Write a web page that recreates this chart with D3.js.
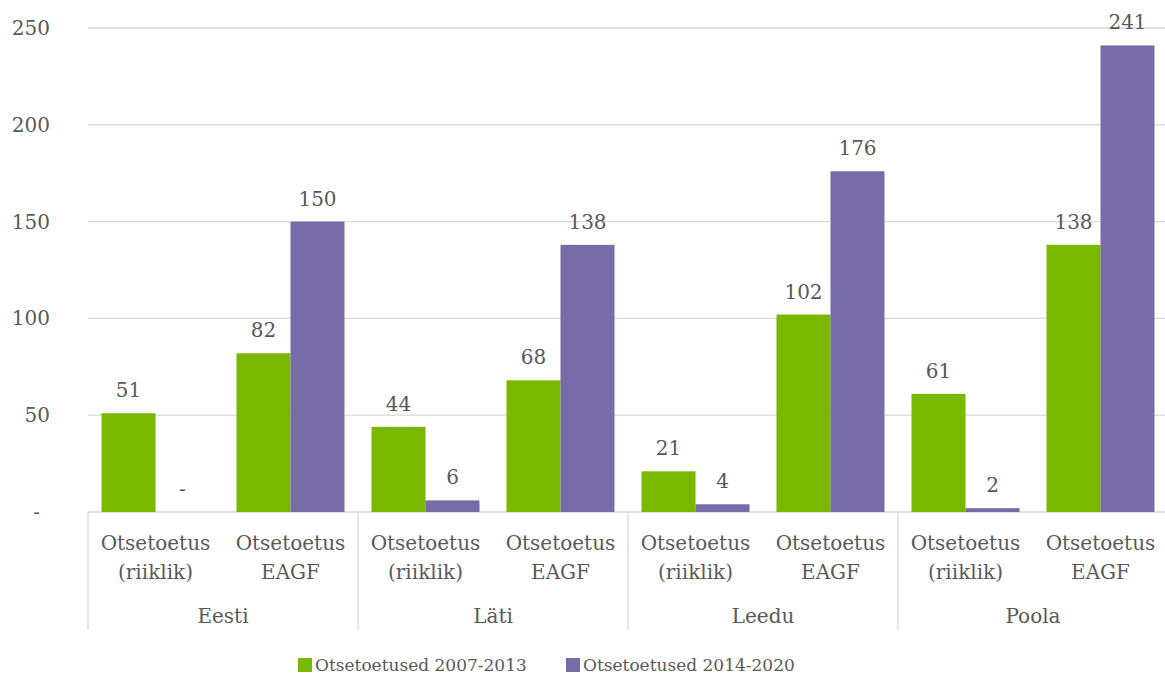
<!DOCTYPE html>
<html>
<head>
<meta charset="utf-8">
<script src="https://cdn.jsdelivr.net/npm/d3@7"></script>
<style>
  body { margin: 0; background: #fff; }
  svg { display: block; }
  text { font-family: "DejaVu Serif", serif; fill: #595959; }
</style>
</head>
<body>
<svg id="chart" width="1165" height="675"></svg>
<script>
const countries = ["Eesti", "Läti", "Leedu", "Poola"];
const subcats = [["Otsetoetus", "(riiklik)"], ["Otsetoetus", "EAGF"]];
const seriesNames = ["Otsetoetused 2007-2013", "Otsetoetused 2014-2020"];
const values2007 = [51, 82, 44, 68, 21, 102, 61, 138];
const values2014 = [0, 150, 6, 138, 4, 176, 2, 241];
const yTicks = [0, 50, 100, 150, 200, 250];
const colors = ["#7ab800", "#786ca8"];

const svg = d3.select("#chart");
const plotLeft = 88, plotRight = 1168, plotTop = 28, plotBottom = 512;

// one band per country, then one per sub category, then one per series
const xCountry = d3.scaleBand().domain(countries).range([plotLeft, plotRight]);
const xSub = d3.scaleBand().domain([0, 1]).range([0, xCountry.bandwidth()]);
const xSeries = d3.scaleBand().domain([0, 1]).range([0, xSub.bandwidth()]).paddingOuter(0.25);
const y = d3.scaleLinear().domain([0, 250]).range([plotBottom, plotTop]);

const fmt = v => v === 0 ? "-" : d3.format(",")(v);

// gridlines
svg.append("g").selectAll("line")
    .data(yTicks)
    .enter().append("line")
    .attr("x1", plotLeft).attr("x2", plotRight)
    .attr("y1", d => y(d)).attr("y2", d => y(d))
    .attr("stroke", "#d9d9d9").attr("stroke-width", 1.3);

// y labels
svg.append("g").selectAll("text")
    .data(yTicks)
    .enter().append("text")
    .attr("x", d => d === 0 ? 40 : 50)
    .attr("y", d => y(d))
    .attr("dy", "0.35em")
    .attr("text-anchor", "end")
    .attr("font-size", 20)
    .text(fmt);

// flattened rows
const rows = [];
countries.forEach((c, ci) => {
    subcats.forEach((s, si) => {
        const idx = ci * 2 + si;
        [values2007[idx], values2014[idx]].forEach((v, k) => {
            rows.push({ country: c, sub: si, series: k, value: v });
        });
    });
});

const xPos = d => xCountry(d.country) + xSub(d.sub) + xSeries(d.series);

svg.append("g").selectAll("rect")
    .data(rows)
    .enter().append("rect")
    .attr("x", xPos)
    .attr("width", xSeries.bandwidth())
    .attr("y", d => y(d.value))
    .attr("height", d => plotBottom - y(d.value))
    .attr("fill", d => colors[d.series]);

svg.append("g").selectAll("text")
    .data(rows)
    .enter().append("text")
    .attr("x", d => xPos(d) + xSeries.bandwidth() / 2)
    .attr("y", d => y(d.value) - 16)
    .attr("text-anchor", "middle")
    .attr("font-size", 20)
    .text(d => fmt(d.value));

// category axis
const axisG = svg.append("g");
countries.forEach(c => {
    axisG.append("line")
        .attr("x1", xCountry(c)).attr("x2", xCountry(c))
        .attr("y1", plotBottom).attr("y2", 630)
        .attr("stroke", "#d9d9d9").attr("stroke-width", 1.3);
    subcats.forEach((s, si) => {
        const cx = xCountry(c) + xSub(si) + xSub.bandwidth() / 2;
        s.forEach((line, li) => {
            axisG.append("text")
                .attr("x", cx).attr("y", 550 + li * 29)
                .attr("text-anchor", "middle")
                .attr("font-size", 20)
                .text(line);
        });
    });
    axisG.append("text")
        .attr("x", xCountry(c) + xCountry.bandwidth() / 2).attr("y", 623)
        .attr("text-anchor", "middle")
        .attr("font-size", 20)
        .text(c);
});

// legend
const legendX = [298, 566];
const legend = svg.append("g").selectAll("g")
    .data(seriesNames)
    .enter().append("g")
    .attr("transform", (d, i) => `translate(${legendX[i]},658)`);
legend.append("rect")
    .attr("width", 14).attr("height", 14)
    .attr("fill", (d, i) => colors[i]);
legend.append("text")
    .attr("x", 17).attr("y", 13)
    .attr("font-size", 17)
    .text(d => d);
</script>
</body>
</html>
